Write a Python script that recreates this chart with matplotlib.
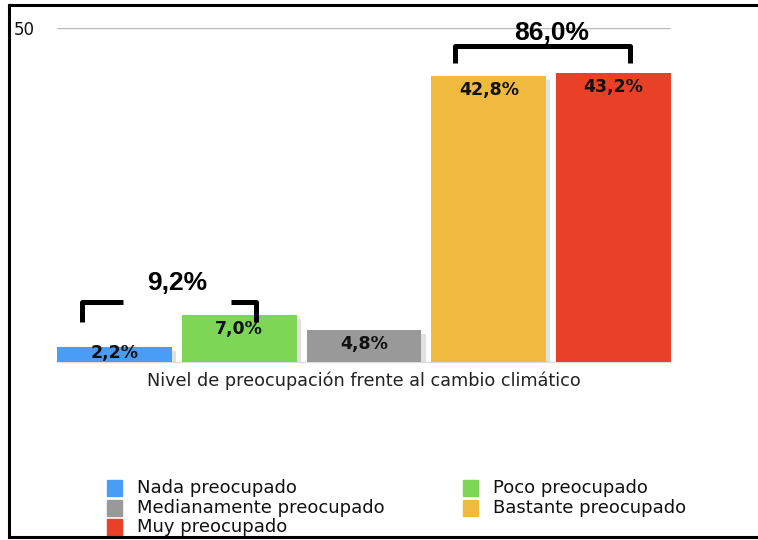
import matplotlib
matplotlib.use("Agg")
import matplotlib.pyplot as plt
import matplotlib.patheffects as pe
from matplotlib.lines import Line2D
from matplotlib.patches import Rectangle

plt.rcParams['font.family'] = ['DejaVu Sans']

categories = ["Nada preocupado", "Poco preocupado", "Medianamente preocupado",
              "Bastante preocupado", "Muy preocupado"]
values = [2.2, 7.0, 4.8, 42.8, 43.2]
value_labels = ["2,2%", "7,0%", "4,8%", "42,8%", "43,2%"]
colors = ["#4A9DF4", "#7ED657", "#999999", "#EFBA3D", "#E84128"]
group_labels = ["9,2%", "86,0%"]
xlabel = "Nivel de preocupación frente al cambio climático"

W, H = 758, 540
fig = plt.figure(figsize=(W / 100, H / 100), dpi=100)
ax = fig.add_axes([57/W, 178/H, 614/W, 334/H])

x = list(range(len(values)))
shadow = [pe.SimplePatchShadow(offset=(3, -3), shadow_rgbFace="#999999", alpha=0.3), pe.Normal()]
bars = ax.bar(x, values, width=0.92, color=colors, edgecolor="none", zorder=3)
for b in bars:
    b.set_path_effects(shadow)

for xi, v, lab in zip(x, values, value_labels):
    yl = max(v - 2.1, 1.4)
    ax.text(xi, yl, lab, ha="center", va="center", fontsize=12.5, fontweight="bold",
            color="#111111", zorder=5)

ax.set_xlim(-0.46, 4.46)
ax.set_ylim(0, 50)
ax.set_yticks([50])
ax.set_yticklabels(["50"], fontsize=12)
ax.tick_params(axis="y", length=0, pad=15.8, labelcolor="#111111")
ax.set_xticks([])
ax.yaxis.grid(True, color="#bbbbbb", linewidth=1)
ax.set_axisbelow(True)
for s in ["top", "right", "left"]:
    ax.spines[s].set_visible(False)
ax.spines["bottom"].set_color("#dddddd")
ax.spines["bottom"].set_linewidth(1)
ax.set_xlabel(xlabel, fontsize=12.7, color="#222222", labelpad=7)

# brackets
bk = dict(color="black", linewidth=3.6, solid_joinstyle="round", solid_capstyle="butt",
          clip_on=False, zorder=6)
gfont = dict(ha="center", va="center", fontsize=19, fontweight="bold",
             family=["Liberation Sans", "DejaVu Sans"])
ax.plot([-0.26, -0.26, 0.068], [6.0, 9.0, 9.0], **bk)
ax.plot([0.932, 1.132, 1.132], [9.0, 9.0, 6.0], **bk)
ax.text(0.5, 11.8, group_labels[0], **gfont)
ax.plot([2.732, 2.732, 4.132, 4.132], [44.8, 47.3, 47.3, 44.8], **bk)
ax.text(3.5, 49.2, group_labels[1], **gfont)

# legend (drawn manually, pixel layout)
leg_pos = {0: (107, 488), 2: (107, 508), 4: (107, 527), 1: (463, 488), 3: (463, 508)}
for i, (px, py) in leg_pos.items():
    fig.add_artist(Rectangle((px / W, 1 - (py + 8) / H), 15 / W, 16 / H,
                             transform=fig.transFigure, color=colors[i]))
    fig.text((px + 30) / W, 1 - py / H, categories[i], ha="left", va="center",
             fontsize=13, color="#111111")

# frame lines
lk = dict(color="black", linewidth=2.2, transform=fig.transFigure)
fig.add_artist(Line2D([9/W, 9/W], [1 - 5/H, 1 - 537/H], **lk))
fig.add_artist(Line2D([9/W, 1], [1 - 5/H, 1 - 5/H], **lk))
fig.add_artist(Line2D([9/W, 1], [1 - 537/H, 1 - 537/H], **lk))

fig.savefig("out.png", dpi=100)
